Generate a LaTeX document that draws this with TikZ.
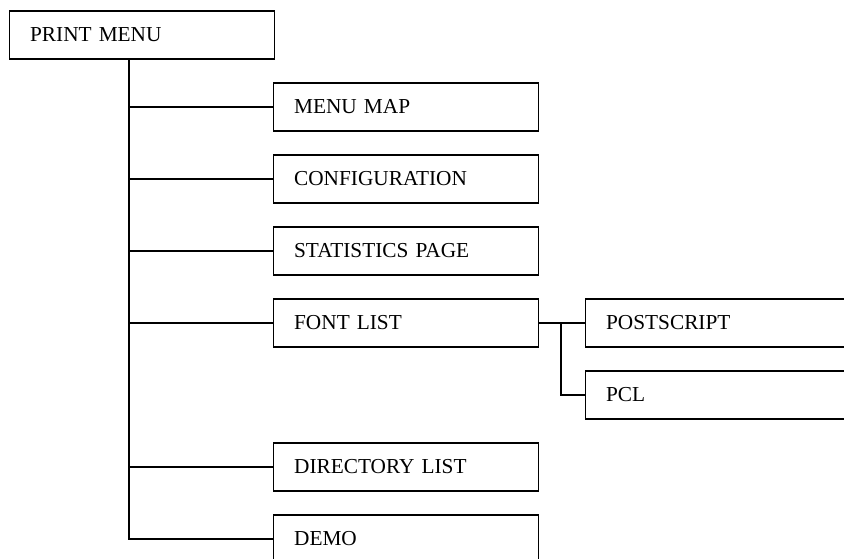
\documentclass[tikz,border=0pt]{standalone}
\usepackage{fontspec}
\setmainfont{Liberation Serif}
\usetikzlibrary{positioning}

\tikzset{
  menubox/.style={draw, line width=1.3pt, anchor=west, text width=224pt, align=left,
    inner xsep=20.5pt, minimum height=48pt, font=\fontsize{21.3}{25}\selectfont},
  link/.style={line width=1.3pt}
}

\begin{document}
\begin{tikzpicture}[x=1pt,y=-1pt]
  \useasboundingbox (0,0) rectangle (844,559);

  % Top level
  \node[menubox] (menu) at (9, 35) {PRINT MENU};

  % Entries of the print menu
  \node[menubox] (map) at (273, 107) {MENU MAP};
  \node[menubox] (config) at (273, 179) {CONFIGURATION};
  \node[menubox] (stats) at (273, 251) {STATISTICS PAGE};
  \node[menubox] (fonts) at (273, 323) {FONT LIST};
  \node[menubox] (dir) at (273, 467) {DIRECTORY LIST};
  \node[menubox] (demo) at (273, 539) {DEMO};

  % Font list entries
  \node[menubox] (post) at (585, 323) {POSTSCRIPT};
  \node[menubox] (pcl) at (585, 395) {PCL};

  % Trunk and branches
  \coordinate (trunk) at (129, 0);
  \draw[link] (menu.south -| trunk) |- (demo.west);
  \foreach \n in {map, config, stats, fonts, dir}
    \draw[link] (trunk |- \n.west) -- (\n.west);

  % Font list branch
  \coordinate (fork) at (561, 0);
  \draw[link] (fonts.east) -- (post.west);
  \draw[link] (fork |- post.west) |- (pcl.west);
\end{tikzpicture}
\end{document}
